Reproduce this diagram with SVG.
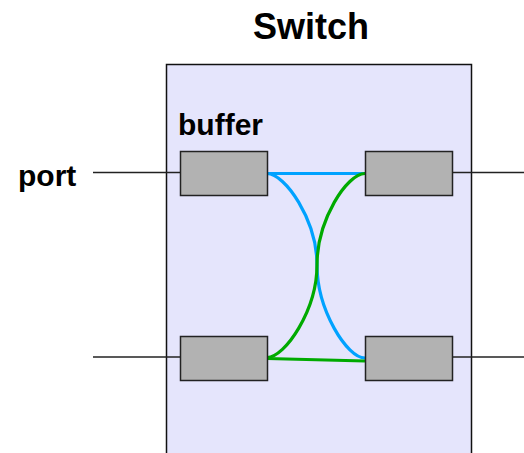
<svg xmlns="http://www.w3.org/2000/svg" width="524" height="453" viewBox="0 0 524 453">
<style>
text{font-family:"Liberation Sans",Arial,sans-serif;font-weight:bold;fill:#000}
.buf{fill:#b2b2b2;stroke:#222;stroke-width:1.5}
.port{stroke:#222;stroke-width:1.3;fill:none}
.blue{stroke:#00a2ff;stroke-width:3.2;fill:none}
.green{stroke:#00aa00;stroke-width:3.2;fill:none}
</style>
<rect width="524" height="453" fill="#fff"/>
<g id="switch">
<rect x="166.5" y="64.5" width="305" height="400" fill="#e5e5fc" stroke="#111" stroke-width="1.5"/>
<text x="311" y="39" font-size="36" text-anchor="middle">Switch</text>
</g>
<g id="port-lines">
<line class="port" x1="93" y1="172.5" x2="181" y2="172.5"/>
<line class="port" x1="93" y1="357" x2="181" y2="357"/>
<line class="port" x1="450" y1="172.5" x2="524" y2="172.5"/>
<line class="port" x1="450" y1="357" x2="524" y2="357"/>
<text x="18" y="186" font-size="30">port</text>
</g>
<text x="178" y="135" font-size="30">buffer</text>
<g id="connectors">
<path class="blue" d="M267,173.5 L365,173.5"/>
<path class="blue" d="M267,173.5 C285,173.5 317,220 317,265 C317,310 347,358 365,358"/>
<path class="green" d="M365,173.5 C347,173.5 317,220 317,265 C317,310 285,357.5 267,357.5"/>
<path class="green" d="M267,358.5 L365,361"/>
</g>
<g id="buffer-tl"><rect class="buf" x="180.5" y="151.5" width="87" height="44"/></g>
<g id="buffer-tr"><rect class="buf" x="365.5" y="151.5" width="87" height="44"/></g>
<g id="buffer-bl"><rect class="buf" x="180.5" y="336.5" width="87" height="44"/></g>
<g id="buffer-br"><rect class="buf" x="365.5" y="336.5" width="87" height="44"/></g>
</svg>
